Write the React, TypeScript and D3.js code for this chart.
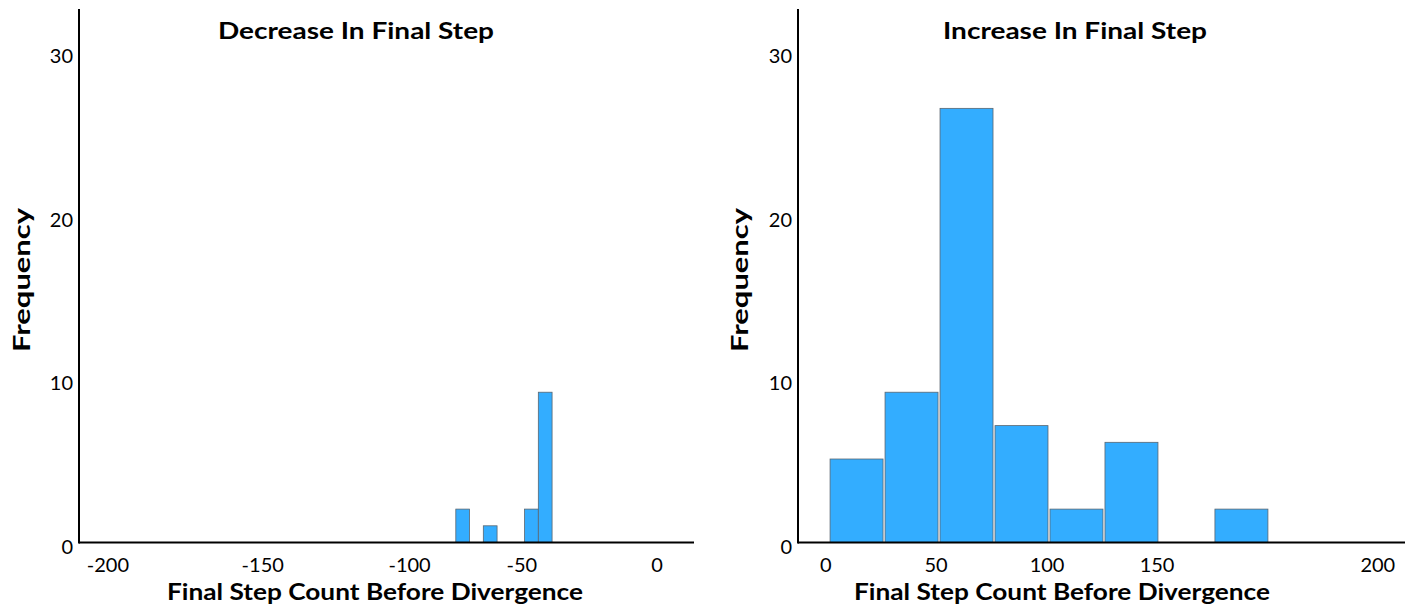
import React from "react";
import * as d3 from "d3";

// ---- data ----
const leftBinStarts = [-75, -65, -50, -45];
const leftBinWidth = 5;
const leftCounts = [2, 1, 2, 9];

const rightBinStarts = [0, 20, 40, 60, 80, 100, 120, 140];
const rightBinWidth = 20;
const rightCounts = [5, 9, 26, 7, 2, 6, 0, 2];

const yTicks = [0, 10, 20, 30];
const leftTickLabels = ["-200", "-150", "-100", "-50", "0"];
// where each label sits along the axis, in data units
const leftTickLabelAt = [-201.5, -145.2, -91.8, -51, -1.8];
const rightTickLabels = ["0", "50", "100", "150", "200"];
const rightTickLabelAt = [-1.2, 38.9, 79.3, 119.3, 199.6];

const FONT = "Lato, 'Open Sans', sans-serif";
const FILL = "#33adff";

type PanelProps = {
  title: string;
  titleLen: number;
  xDomain: [number, number];
  xRange: [number, number];
  binStarts: number[];
  binWidth: number;
  counts: number[];
  tickLabels: string[];
  tickLabelAt: number[];
  xTitleCenter: number;
  titleCenter: number;
  yTitleX: number;
  inset: number;
};

function Panel(p: PanelProps) {
  const x = d3.scaleLinear().domain(p.xDomain).range(p.xRange);
  const y = d3.scaleLinear().domain([0, 31.95]).range([542.5, 9]);
  const yLab = d3.scaleLinear().domain([0, 30]).range([546, 55]);
  const x0 = p.xRange[0];
  return (
    <g>
      {p.binStarts.map((s, i) =>
        p.counts[i] > 0 ? (
          <rect
            key={i}
            x={x(s) + p.inset}
            y={y(p.counts[i])}
            width={x(s + p.binWidth) - x(s) - 2 * p.inset}
            height={y(0) - y(p.counts[i])}
            fill={FILL}
            stroke="#5a6670"
            strokeWidth={0.8}
          />
        ) : null
      )}
      <line x1={x0} x2={x0} y1={y.range()[1]} y2={y(0) + 1} stroke="#000" strokeWidth={2} />
      <line x1={x0} x2={p.xRange[1]} y1={y(0)} y2={y(0)} stroke="#000" strokeWidth={2} />
      {yTicks.map((t) => (
        <text
          key={t}
          x={x0 - 6}
          y={yLab(t)}
          textAnchor="end"
          dominantBaseline="central"
          fontFamily={FONT}
          fontSize={20}
          fill="#000"
        >
          {t}
        </text>
      ))}
      {p.tickLabels.map((t, i) => (
        <text
          key={t}
          x={x(p.tickLabelAt[i])}
          y={564}
          textAnchor="middle"
          dominantBaseline="central"
          fontFamily={FONT}
          fontSize={20}
          fill="#000"
        >
          {t}
        </text>
      ))}
      <text
        x={p.titleCenter}
        y={39}
        textAnchor="middle"
        fontFamily={FONT}
        fontWeight="bold"
        fontSize={22}
        textLength={p.titleLen}
        lengthAdjust="spacingAndGlyphs"
      >
        {p.title}
      </text>
      <text
        x={p.xTitleCenter}
        y={600}
        textAnchor="middle"
        fontFamily={FONT}
        fontWeight="bold"
        fontSize={23}
        textLength={416}
        lengthAdjust="spacingAndGlyphs"
      >
        Final Step Count Before Divergence
      </text>
      <text
        transform={`translate(${p.yTitleX},280) rotate(-90)`}
        textAnchor="middle"
        fontFamily={FONT}
        fontWeight="bold"
        fontSize={23}
        textLength={144}
        lengthAdjust="spacingAndGlyphs"
      >
        Frequency
      </text>
    </g>
  );
}

export default function App() {
  return (
    <svg
      width={1405}
      height={605}
      style={{ position: "absolute", left: 0, top: 0, background: "#fff" }}
    >
      <Panel
        title="Decrease In Final Step"
        titleLen={276}
        xDomain={[-212, 11.6]}
        xRange={[79, 694]}
        binStarts={leftBinStarts}
        binWidth={leftBinWidth}
        counts={leftCounts}
        tickLabels={leftTickLabels}
        tickLabelAt={leftTickLabelAt}
        xTitleCenter={375}
        titleCenter={356}
        yTitleX={30}
        inset={0}
      />
      <Panel
        title="Increase In Final Step"
        titleLen={264}
        xDomain={[-11.3, 209.5]}
        xRange={[798, 1405]}
        binStarts={rightBinStarts}
        binWidth={rightBinWidth}
        counts={rightCounts}
        tickLabels={rightTickLabels}
        tickLabelAt={rightTickLabelAt}
        xTitleCenter={1062}
        titleCenter={1075}
        yTitleX={748}
        inset={1}
      />
    </svg>
  );
}
